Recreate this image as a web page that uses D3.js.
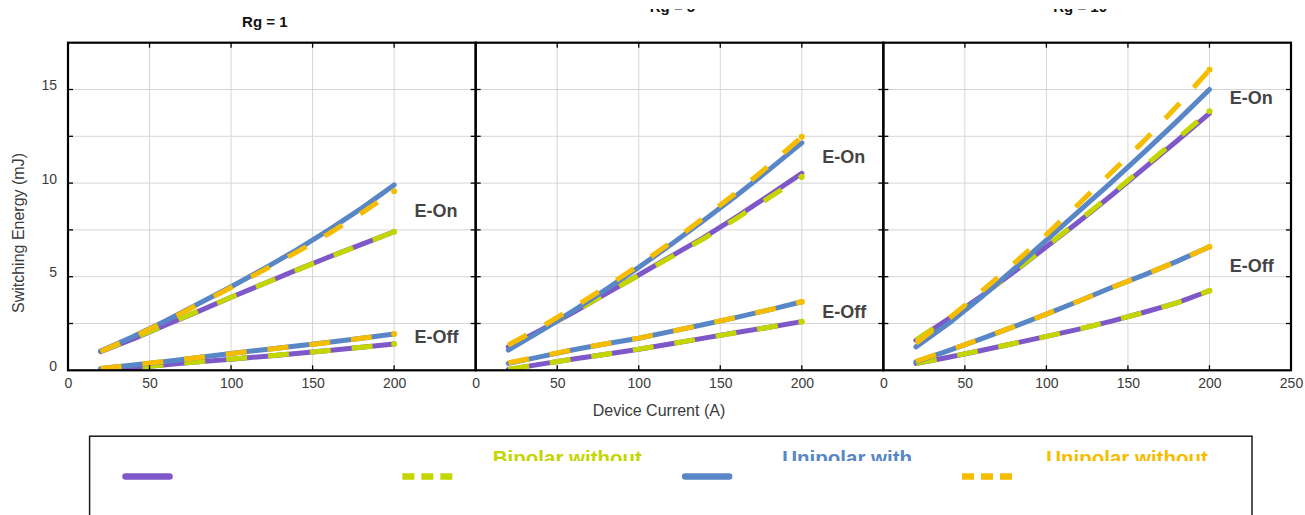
<!DOCTYPE html>
<html>
<head>
<meta charset="utf-8">
<script src="https://cdn.jsdelivr.net/npm/d3@7/dist/d3.min.js"></script>
<style>
  html, body { margin: 0; padding: 0; background: #fff; }
  svg { display: block; font-family: "Liberation Sans", Arial, Helvetica, sans-serif; }
</style>
</head>
<body>
<svg id="chart" width="1305" height="515"></svg>
<script>
// ---- data -------------------------------------------------------------
const currents = [20, 40, 60, 80, 100, 120, 140, 160, 180, 200];   // A
const gateResistances = [1, 5, 10];                                 // ohm
const seriesNames  = ["Bipolar with", "Bipolar without", "Unipolar with", "Unipolar without"];
const legendLabels = ["", "Bipolar without", "Unipolar with", "Unipolar without"];
const seriesColors = ["#7e58c8", "#c4d600", "#5886c7", "#f6bd00"];
const seriesDashed = [false, true, false, true];

// Turn-on energy (mJ), one row per series (order of seriesNames)
const eOnRg1 = [
  [1.00, 1.68, 2.42, 3.15, 3.90, 4.62, 5.35, 6.05, 6.73, 7.40],
  [1.02, 1.70, 2.43, 3.16, 3.90, 4.62, 5.34, 6.04, 6.72, 7.40],
  [1.03, 1.80, 2.65, 3.55, 4.46, 5.42, 6.42, 7.50, 8.65, 9.90],
  [1.00, 1.78, 2.63, 3.52, 4.42, 5.35, 6.30, 7.30, 8.40, 9.57]
];
const eOnRg5 = [
  [1.25, 2.15, 3.10, 4.10, 5.09, 6.10, 7.10, 8.20, 9.35, 10.52],
  [1.30, 2.18, 3.12, 4.10, 5.07, 6.06, 7.04, 8.12, 9.22, 10.34],
  [1.08, 2.11, 3.19, 4.32, 5.50, 6.73, 8.01, 9.34, 10.72, 12.15],
  [1.35, 2.30, 3.35, 4.45, 5.60, 6.85, 8.15, 9.50, 10.95, 12.47]
];
const eOnRg10 = [
  [1.60, 2.75, 3.95, 5.25, 6.60, 7.95, 9.35, 10.80, 12.25, 13.72],
  [1.62, 2.77, 3.97, 5.27, 6.62, 7.99, 9.41, 10.88, 12.35, 13.84],
  [1.25, 2.50, 3.90, 5.40, 6.95, 8.50, 10.05, 11.65, 13.30, 15.00],
  [1.45, 2.75, 4.20, 5.70, 7.25, 8.90, 10.58, 12.27, 14.10, 16.05]
];

// Turn-off energy (mJ), one row per series
const eOffRg1 = [
  [0.00, 0.14, 0.30, 0.45, 0.59, 0.74, 0.90, 1.06, 1.23, 1.40],
  [0.00, 0.15, 0.30, 0.45, 0.60, 0.75, 0.90, 1.06, 1.23, 1.40],
  [0.10, 0.28, 0.47, 0.68, 0.90, 1.10, 1.30, 1.50, 1.71, 1.94],
  [0.10, 0.29, 0.48, 0.68, 0.89, 1.09, 1.29, 1.49, 1.71, 1.94]
];
const eOffRg5 = [
  [0.05, 0.33, 0.60, 0.86, 1.12, 1.42, 1.72, 2.02, 2.30, 2.60],
  [0.06, 0.33, 0.60, 0.86, 1.13, 1.42, 1.72, 2.01, 2.30, 2.60],
  [0.37, 0.73, 1.10, 1.42, 1.71, 2.08, 2.45, 2.83, 3.23, 3.66],
  [0.40, 0.75, 1.10, 1.42, 1.72, 2.08, 2.45, 2.83, 3.23, 3.66]
];
const eOffRg10 = [
  [0.36, 0.70, 1.06, 1.43, 1.81, 2.20, 2.63, 3.10, 3.60, 4.25],
  [0.37, 0.70, 1.06, 1.43, 1.81, 2.20, 2.63, 3.10, 3.60, 4.25],
  [0.45, 1.05, 1.68, 2.33, 3.00, 3.70, 4.42, 5.10, 5.82, 6.60],
  [0.48, 1.06, 1.68, 2.33, 3.00, 3.70, 4.42, 5.10, 5.82, 6.60]
];

const eOnByRg  = [eOnRg1, eOnRg5, eOnRg10];
const eOffByRg = [eOffRg1, eOffRg5, eOffRg10];

// Where the "E-On" / "E-Off" tags sit, in data units (A, mJ)
const tagCurrent = 212.5;
const eOnTagAt  = [8.52, 11.4, 14.55];
const eOffTagAt = [1.79, 3.13, 5.57];

const xTicksGrid = [50, 100, 150, 200];
const yTicksGrid = d3.range(2.5, 17.5, 2.5);
const yTickLabels = [0, 5, 10, 15];

// ---- layout -----------------------------------------------------------
const svg = d3.select("#chart");
const plotLeft = 68, plotRight = 1291, plotTop = 42.7, plotBottom = 370.3;
const panelW = (plotRight - plotLeft) / 3;
const textColor = "#3a3a3a";

const y = d3.scaleLinear().domain([0, 17.5]).range([plotBottom, plotTop]);

const defs = svg.append("defs");
defs.append("clipPath").attr("id", "plot-clip")
  .append("rect").attr("x", 0).attr("y", plotTop).attr("width", panelW).attr("height", plotBottom - plotTop);
defs.append("clipPath").attr("id", "title-clip")
  .append("rect").attr("x", 0).attr("y", 9).attr("width", 1305).attr("height", 40);
defs.append("clipPath").attr("id", "legend-text-clip")
  .append("rect").attr("x", 0).attr("y", 420).attr("width", 1305).attr("height", 41);

const titleBaselines = [27, 12, 12];

gateResistances.forEach((rg, i) => {
  const x0 = plotLeft + i * panelW;
  const x = d3.scaleLinear().domain([0, 250]).range([0, panelW]);
  const g = svg.append("g").attr("transform", `translate(${x0},0)`);

  // grid
  g.append("g").selectAll("line").data(xTicksGrid).join("line")
    .attr("x1", d => x(d)).attr("x2", d => x(d))
    .attr("y1", plotTop).attr("y2", plotBottom)
    .attr("stroke", "#d6d6d6").attr("stroke-width", 1);
  g.append("g").selectAll("line").data(yTicksGrid).join("line")
    .attr("x1", 0).attr("x2", panelW)
    .attr("y1", d => y(d)).attr("y2", d => y(d))
    .attr("stroke", "#d6d6d6").attr("stroke-width", 1);

  // curves
  const line = d3.line().x((d, k) => x(currents[k])).y(d => y(d));
  const lines = g.append("g").attr("clip-path", "url(#plot-clip)");
  seriesNames.forEach((name, s) => {
    [eOffByRg[i][s], eOnByRg[i][s]].forEach(vals => {
      lines.append("path")
        .datum(vals)
        .attr("d", line)
        .attr("fill", "none")
        .attr("stroke", seriesColors[s])
        .attr("stroke-width", 5)
        .attr("stroke-linecap", seriesDashed[s] ? "butt" : "round")
        .attr("stroke-linejoin", "round")
        .attr("stroke-dasharray", seriesDashed[s] ? "21,21" : null);
      if (seriesDashed[s]) {
        const last = vals.length - 1;
        lines.append("circle")
          .attr("cx", x(currents[last])).attr("cy", y(vals[last]))
          .attr("r", 3).attr("fill", seriesColors[s]);
      }
    });
  });

  // tags
  g.append("text").attr("x", x(tagCurrent)).attr("y", y(eOnTagAt[i]))
    .attr("dominant-baseline", "central")
    .attr("font-size", 18).attr("font-weight", "bold").attr("fill", "#444")
    .text("E-On");
  g.append("text").attr("x", x(tagCurrent)).attr("y", y(eOffTagAt[i]))
    .attr("dominant-baseline", "central")
    .attr("font-size", 18).attr("font-weight", "bold").attr("fill", "#444")
    .text("E-Off");

  // inward tick marks on all four sides
  const tk = g.append("g").attr("stroke", "#000").attr("stroke-width", 1.3);
  xTicksGrid.forEach(v => {
    tk.append("line").attr("x1", x(v)).attr("x2", x(v)).attr("y1", plotTop).attr("y2", plotTop + 5);
    tk.append("line").attr("x1", x(v)).attr("x2", x(v)).attr("y1", plotBottom).attr("y2", plotBottom - 5);
  });
  yTicksGrid.forEach(v => {
    tk.append("line").attr("x1", 0).attr("x2", 5).attr("y1", y(v)).attr("y2", y(v));
    tk.append("line").attr("x1", panelW).attr("x2", panelW - 5).attr("y1", y(v)).attr("y2", y(v));
  });

  // frame
  g.append("rect").attr("x", 0).attr("y", plotTop).attr("width", panelW).attr("height", plotBottom - plotTop)
    .attr("fill", "none").attr("stroke", "#000").attr("stroke-width", 2.2);

  // x axis labels
  const xAxis = d3.axisBottom(x)
    .tickValues(i < 2 ? [0, 50, 100, 150, 200] : [0, 50, 100, 150, 200, 250])
    .tickSize(0).tickPadding(7.5);
  const ax = g.append("g").attr("transform", `translate(0,${plotBottom})`).call(xAxis);
  ax.select(".domain").remove();
  ax.selectAll("text").attr("font-size", 14).attr("font-family", null).attr("fill", textColor);

  // y axis labels on the first panel
  if (i === 0) {
    const yAxis = d3.axisLeft(y).tickValues(yTickLabels).tickSize(0).tickPadding(11);
    const ay = g.append("g").call(yAxis);
    ay.select(".domain").remove();
    ay.selectAll("text").attr("font-size", 14).attr("font-family", null).attr("fill", textColor).attr("dy", "0");
  }

  // panel title
  svg.append("text")
    .attr("clip-path", "url(#title-clip)")
    .attr("x", x0 + panelW / 2 - 7).attr("y", titleBaselines[i])
    .attr("text-anchor", "middle")
    .attr("font-size", 15).attr("font-weight", "bold").attr("fill", "#111")
    .text(`Rg = ${rg}`);
});

// axis titles
svg.append("text")
  .attr("transform", "translate(18.5,233) rotate(-90)")
  .attr("text-anchor", "middle").attr("dominant-baseline", "central")
  .attr("font-size", 16).attr("fill", textColor)
  .text("Switching Energy (mJ)");
svg.append("text")
  .attr("x", 659).attr("y", 410)
  .attr("text-anchor", "middle").attr("dominant-baseline", "central")
  .attr("font-size", 16).attr("fill", textColor)
  .text("Device Current (A)");

// legend
const legend = svg.append("g");
legend.append("rect")
  .attr("x", 89.6).attr("y", 436.2).attr("width", 1162.4).attr("height", 200)
  .attr("fill", "none").attr("stroke", "#1a1a1a").attr("stroke-width", 1.5);
const legendX = d3.scaleLinear().domain([0, 3]).range([122.5, 962]);
seriesNames.forEach((name, s) => {
  const lx = legendX(s);
  if (seriesDashed[s]) {
    legend.append("line")
      .attr("x1", lx).attr("x2", lx + 50).attr("y1", 476.5).attr("y2", 476.5)
      .attr("stroke", seriesColors[s]).attr("stroke-width", 6.5)
      .attr("stroke-dasharray", "12,7");
  } else {
    legend.append("line")
      .attr("x1", lx + 3).attr("x2", lx + 47).attr("y1", 476.5).attr("y2", 476.5)
      .attr("stroke", seriesColors[s]).attr("stroke-width", 6.5)
      .attr("stroke-linecap", "round");
  }
  if (legendLabels[s]) {
    legend.append("text")
      .attr("clip-path", "url(#legend-text-clip)")
      .attr("x", lx + 165).attr("y", 465)
      .attr("text-anchor", "middle")
      .attr("font-size", 20.5).attr("font-weight", "bold").attr("fill", seriesColors[s])
      .text(legendLabels[s]);
  }
});
</script>
</body>
</html>
